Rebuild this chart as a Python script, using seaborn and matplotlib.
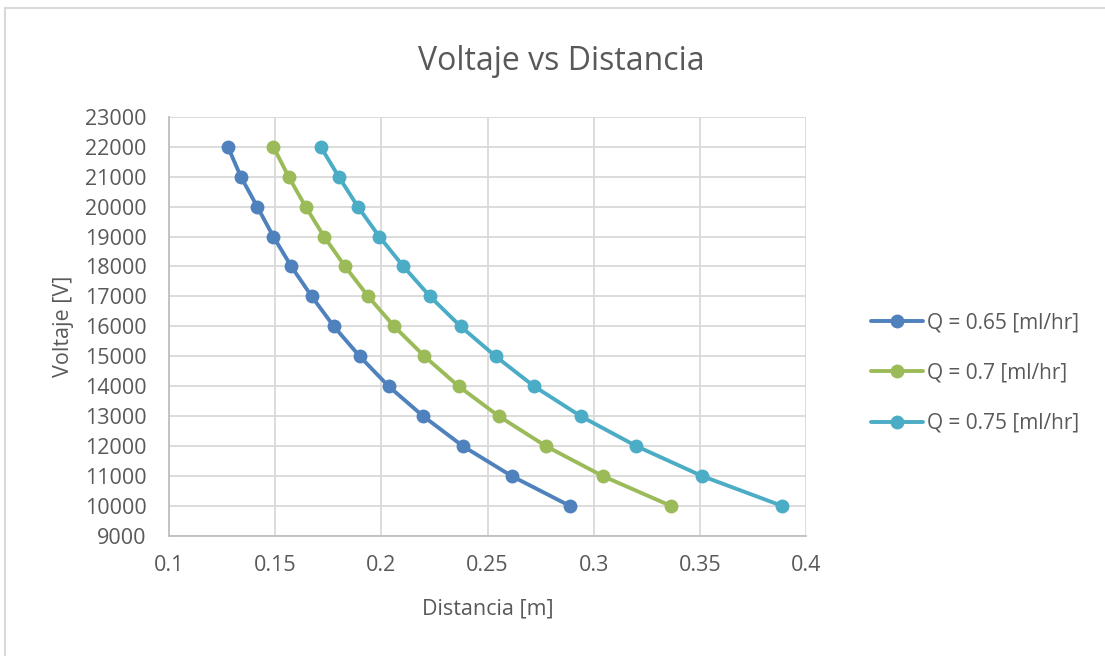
import numpy as np
import pandas as pd
import matplotlib
matplotlib.use('Agg')
import matplotlib.pyplot as plt
import seaborn as sns
from matplotlib.lines import Line2D

# Valores
voltaje = [22000, 21000, 20000, 19000, 18000, 17000, 16000,
           15000, 14000, 13000, 12000, 11000, 10000]
dist_065 = [0.1277, 0.1338, 0.1415, 0.1491, 0.1576, 0.1672, 0.1776,
            0.1898, 0.2034, 0.2197, 0.2384, 0.2614, 0.2889]
dist_070 = [0.1491, 0.1563, 0.1643, 0.1730, 0.1829, 0.1938, 0.2060,
            0.2203, 0.2364, 0.2553, 0.2775, 0.3043, 0.3365]
dist_075 = [0.1714, 0.1799, 0.1889, 0.1990, 0.2104, 0.2229, 0.2373,
            0.2538, 0.2719, 0.2939, 0.3201, 0.3511, 0.3889]
series = ['Q = 0.65 [ml/hr]', 'Q = 0.7 [ml/hr]', 'Q = 0.75 [ml/hr]']
colors = ['#4F81BD', '#9BBB59', '#4BACC6']

df = pd.DataFrame({
    'Distancia': dist_065 + dist_070 + dist_075,
    'Voltaje': voltaje * 3,
    'Serie': [s for s in series for _ in voltaje],
})

sns.set_style('white')
plt.rcParams['font.family'] = ['Open Sans', 'DejaVu Sans']
text_color = '#595959'

fig = plt.figure(figsize=(11.05, 6.56), dpi=100)
ax = fig.add_axes([0.153, 0.183, 0.5764, 0.639])

sns.lineplot(data=df, x='Distancia', y='Voltaje', hue='Serie', palette=colors,
             sort=False, estimator=None, marker='o', markersize=10,
             markeredgewidth=0, linewidth=2.8, ax=ax, legend=False)

ax.set_xlim(0.1, 0.4)
ax.set_ylim(9000, 23000)
ax.set_xticks(np.arange(0.1, 0.401, 0.05))
ax.set_xticklabels(['0.1', '0.15', '0.2', '0.25', '0.3', '0.35', '0.4'])
ax.set_yticks(np.arange(9000, 23001, 1000))
ax.grid(True, color='#D9D9D9', linewidth=1.3)
ax.tick_params(length=0, labelsize=15.5, colors=text_color)
ax.tick_params(axis='x', pad=14)
ax.tick_params(axis='y', pad=16)
for side in ['top', 'right']:
    ax.spines[side].set_visible(False)
for side in ['left', 'bottom']:
    ax.spines[side].set_color('#BFBFBF')
    ax.spines[side].set_linewidth(1.3)

ax.set_xlabel('Distancia [m]', fontsize=15.5, color=text_color, labelpad=16)
ax.set_ylabel('Voltaje [V]', fontsize=15.5, color=text_color, labelpad=8)
fig.text(0.508, 0.907, 'Voltaje vs Distancia', ha='center', va='center',
         fontsize=23, color=text_color)

handles = [Line2D([], [], color=c, marker='o', markersize=10, markeredgewidth=0,
                  linewidth=2.8) for c in colors]
fig.legend(handles, series, loc='center left', bbox_to_anchor=(0.771, 0.431),
           frameon=False, fontsize=15, labelcolor=text_color,
           handlelength=2.5, handletextpad=0.2, labelspacing=1.4)

# borde del grafico
fig.add_artist(Line2D([0.0045, 0.0045], [0, 0.988], color='#D9D9D9', linewidth=1.5))
fig.add_artist(Line2D([0.0045, 1], [0.988, 0.988], color='#D9D9D9', linewidth=1.5))

fig.savefig('out.png', dpi=100)
